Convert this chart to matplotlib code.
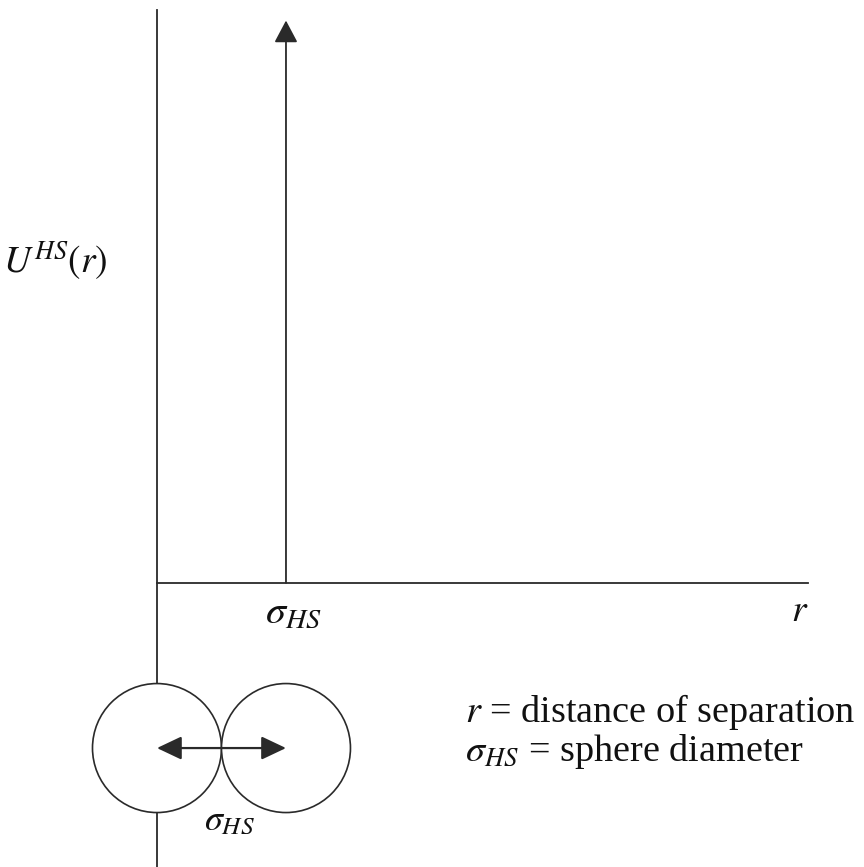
import matplotlib
matplotlib.use("Agg")
import matplotlib.pyplot as plt
from matplotlib.patches import Circle

plt.rcParams["font.family"] = ["Liberation Serif", "DejaVu Serif"]
plt.rcParams["mathtext.fontset"] = "stix"

# 길이 단위: 구의 지름 sigma_HS = 1
sigma_hs = 1.0
r_max = 5.05          # r 축 끝
u_top = 4.36          # 무한 퍼텐셜 화살표 끝
axis_top = 4.44       # U 축 위쪽 끝
axis_bottom = -2.21   # U 축 아래쪽 끝
sphere_y = -1.28      # 두 구 중심의 높이
sphere_centers = [0.0, sigma_hs]

y_label = r"$U^{HS}(r)$"
x_label = r"$r$"
tick_label = r"$\sigma_{HS}$"
legend_lines = [r"$r$ = distance of separation", r"$\sigma_{HS}$ = sphere diameter"]

line_color = "#2a2a2a"
text_color = "#111111"

fig = plt.figure(figsize=(8.64, 8.67), dpi=100)
ax = fig.add_axes([0, 0, 1, 1])
ax.set_xlim(-1.217, 5.481)
ax.set_ylim(-2.202, 4.519)
ax.set_aspect("equal")
ax.axis("off")

# 축
ax.plot([0, 0], [axis_bottom, axis_top], color=line_color, lw=1.3)
ax.plot([0, r_max], [0, 0], color=line_color, lw=1.3)

# r = sigma_HS 에서의 수직 벽 (화살표)
ax.annotate("", xy=(sigma_hs, u_top), xytext=(sigma_hs, 0),
            arrowprops=dict(arrowstyle="-|>,head_length=0.85,head_width=0.45",
                            mutation_scale=16, color=line_color, lw=1.3,
                            shrinkA=0, shrinkB=0))

# 두 개의 강체 구
for cx in sphere_centers:
    ax.add_patch(Circle((cx, sphere_y), sigma_hs / 2, fill=True, facecolor="white",
                        edgecolor=line_color, lw=1.2, zorder=3))

# 구 중심 사이 양방향 화살표
ax.annotate("", xy=(sphere_centers[0], sphere_y), xytext=(sphere_centers[1], sphere_y),
            arrowprops=dict(arrowstyle="<|-|>,head_length=0.95,head_width=0.45",
                            mutation_scale=16, color=line_color, lw=1.6,
                            shrinkA=0, shrinkB=0), zorder=4)

# 글자
ax.text(-1.19, 2.5, y_label, fontsize=27, ha="left", va="center", color=text_color)
ax.text(1.06, -0.23, tick_label, fontsize=29, ha="center", va="center", color=text_color)
ax.text(4.98, -0.22, x_label, fontsize=27, ha="center", va="center", color=text_color)
ax.text(0.56, -1.85, tick_label, fontsize=26, ha="center", va="center", color=text_color)
ax.text(2.39, -1.0, legend_lines[0], fontsize=27.5, ha="left", va="center", color=text_color)
ax.text(2.39, -1.31, legend_lines[1], fontsize=27.5, ha="left", va="center", color=text_color)

fig.savefig("out.png", dpi=100)
